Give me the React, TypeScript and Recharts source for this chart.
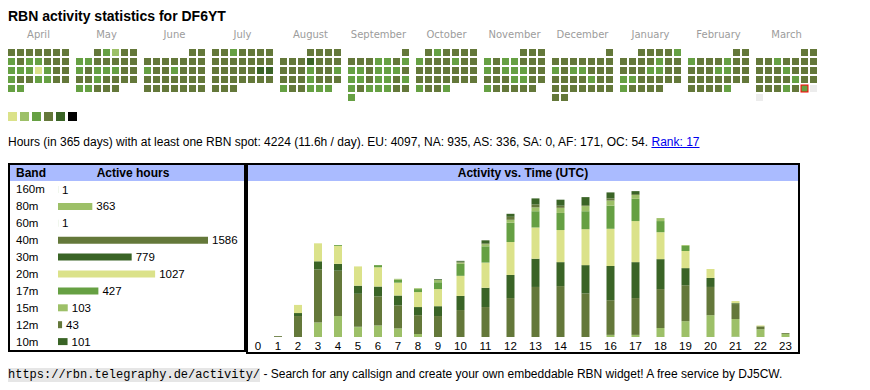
import React from "react";
import { BarChart, Bar, XAxis, YAxis, ScatterChart, Scatter, LabelList, Cell } from "recharts";

// activity level colours (calendar + bars)
const LEVEL_COLORS: Record<string, string> = {
  Y: "#dbe28a",
  L: "#9dc068",
  G: "#66a043",
  O: "#64783a",
  D: "#3a6426",
  K: "#000000",
  _: "#ececec",
};
const LEGEND_LEVELS = ["Y", "L", "G", "O", "D", "K"];

// Calendar: one level letter per day, Mon = column 0
const MONTHS = ["April", "May", "June", "July", "August", "September", "October", "November", "December", "January", "February", "March"];
const FIRST_WEEKDAY = [0, 2, 5, 0, 3, 6, 1, 4, 6, 2, 5, 5];
const DAY_LEVELS = [
  ["OOOOOOO", "GOGGOOO", "GGGYGOO", "GOOGGOO", "GG"],
  ["OGLOO", "GGOOOOO", "GOGGGOO", "OOGOOOO", "GGOOO"],
  ["OO", "OOOOOOO", "GOOGOOO", "OOOOOOO", "OOOOOOO"],
  ["OOGOOOO", "OOOOOOO", "OOOOODD", "OOOOOOO", "OOO"],
  ["OOOO", "OOODOOO", "OOOGOOG", "OOOGOOO", "GOOGGG"],
  ["O", "OOOGGOG", "GGOGGGO", "GGOGGOG", "GOGGGOO", "G"],
  ["OGOOOO", "GOOOGOO", "OOOOOOO", "OOOOOOO", "GOOG"],
  ["OOO", "GOGGOOO", "GOGGGOO", "OOOGGOO", "GOOOOO"],
  ["O", "OOOOOOO", "GOGGOOO", "OOOOGOO", "OOOOOOO", "OO"],
  ["OOOOG", "OOOOGOO", "OOOGGOO", "GGOOOOO", "GOOOO"],
  ["OO", "GOOOGOO", "OOOGGOO", "OOOOOOO", "OOOOG"],
  ["OO", "OOGOOOO", "OOOGOOO", "OOOOGOO", "OOOGOG_", "_"],
].map((rows) => rows.join(""));
const TODAY = { month: 11, day: 28 };

// Band table
const BANDS = ["160m", "80m", "60m", "40m", "30m", "20m", "17m", "15m", "12m", "10m"];
const BAND_HOURS = [1, 363, 1, 1586, 779, 1027, 427, 103, 43, 101];
const BAND_COLORS = ["#66a043", "#9dc068", "#66a043", "#64783a", "#3a6426", "#dbe28a", "#66a043", "#9dc068", "#64783a", "#3a6426"];

// Activity vs. time (UTC), hours per band
const HOURS = ["0", "1", "2", "3", "4", "5", "6", "7", "8", "9", "10", "11", "12", "13", "14", "15", "16", "17", "18", "19", "20", "21", "22", "23"];
const h160 = [0, 0, 0, 0, 0, 0, 0, 0, 0, 0, 0, 0, 0, 0, 0, 0, 0, 0, 0, 0, 0, 1, 0, 0];
const h80 = [0, 0, 0, 34, 49, 23, 27, 20, 7, 0, 0, 0, 0, 0, 0, 0, 5, 5, 21, 37, 51, 41, 18, 7];
const h60 = [0, 0, 0, 0, 0, 1, 0, 0, 0, 0, 0, 0, 0, 0, 0, 0, 0, 0, 0, 0, 0, 0, 0, 0];
const h40 = [0, 2, 49, 124, 106, 77, 68, 54, 44, 49, 63, 70, 91, 117, 119, 102, 81, 86, 91, 84, 66, 35, 7, 2];
const h30 = [0, 0, 7, 19, 16, 19, 23, 23, 19, 23, 33, 45, 54, 66, 56, 66, 80, 84, 70, 40, 21, 2, 0, 0];
const h20 = [0, 0, 19, 42, 42, 45, 45, 30, 35, 40, 47, 59, 77, 73, 75, 84, 87, 96, 63, 40, 21, 5, 2, 0];
const h17 = [0, 0, 0, 0, 2, 0, 5, 7, 7, 16, 28, 38, 45, 38, 40, 42, 54, 52, 26, 12, 0, 0, 0, 0];
const h15 = [0, 0, 0, 0, 0, 0, 0, 2, 2, 5, 3, 5, 7, 9, 12, 12, 12, 9, 7, 2, 0, 0, 0, 0];
const h12 = [0, 0, 0, 0, 0, 0, 0, 0, 0, 0, 2, 2, 7, 7, 5, 2, 5, 2, 0, 0, 0, 0, 0, 0];
const h10 = [0, 0, 0, 0, 0, 0, 0, 0, 0, 2, 2, 7, 7, 14, 14, 19, 14, 7, 0, 0, 0, 0, 0, 0];
const HOURLY_SERIES = [h160, h80, h60, h40, h30, h20, h17, h15, h12, h10];

// the hour columns size like an html table: wider for 2-digit labels
const colUnits = HOURS.map((h) => h.length + 3);
const colTotal = colUnits.reduce((a, b) => a + b, 0);
const colCenters = colUnits.map((u, i) => colUnits.slice(0, i).reduce((a, b) => a + b, 0) + u / 2);

const hourData = HOURS.map((h, i) => {
  const row: any = { x: colCenters[i], label: h };
  BANDS.forEach((b, j) => (row[b] = HOURLY_SERIES[j][i]));
  return row;
});
const tableData = BANDS.map((b, i) => ({ band: b, hours: BAND_HOURS[i] }));

const SANS = "'Liberation Sans', Arial, sans-serif";

const MonthBlock = ({ m }: { m: number }) => {
  const data = [...DAY_LEVELS[m]].map((c, i) => {
    const p = FIRST_WEEKDAY[m] + i;
    return { wd: p % 7, wk: Math.floor(p / 7), c, today: m === TODAY.month && i === TODAY.day };
  });
  return (
    <div style={{ width: 63 }}>
      <div style={{ height: 14, lineHeight: "14px", fontSize: 10, fontFamily: "'DejaVu Sans'", color: "#9c9c9c", textAlign: "center", whiteSpace: "nowrap" }}>
        {MONTHS[m]}
      </div>
      <div style={{ paddingTop: 6 }}>
        <ScatterChart width={63} height={54} margin={{ top: 0, right: 0, bottom: 0, left: 0 }}>
          <XAxis type="number" dataKey="wd" domain={[-0.5, 6.5]} hide />
          <YAxis type="number" dataKey="wk" domain={[-0.5, 5.5]} reversed hide />
          <Scatter
            data={data}
            isAnimationActive={false}
            shape={(p: any) => (
              <rect
                x={p.cx - 3.5}
                y={p.cy - 3.5}
                width={7}
                height={7}
                fill={LEVEL_COLORS[p.payload.c]}
                stroke={p.payload.today ? "#ff0000" : "none"}
                strokeWidth={1}
              />
            )}
          />
        </ScatterChart>
      </div>
    </div>
  );
};

const headerStyle: React.CSSProperties = {
  height: 16,
  lineHeight: "16px",
  background: "#aabbff",
  fontWeight: "bold",
  fontSize: 12,
};

export default function App() {
  return (
    <div style={{ position: "relative", width: 854, height: 374, fontFamily: SANS, color: "#000" }}>
      <div style={{ position: "absolute", top: 0, left: 0, fontSize: 14, fontWeight: "bold", lineHeight: "16px", whiteSpace: "nowrap" }}>
        RBN activity statistics for DF6YT
      </div>

      <div style={{ position: "absolute", top: 20, left: -1, display: "flex", gap: 5 }}>
        {MONTHS.map((_, m) => (
          <MonthBlock key={m} m={m} />
        ))}
      </div>

      <div style={{ position: "absolute", top: 103.5, left: 0, display: "flex", gap: 3 }}>
        {LEGEND_LEVELS.map((l) => (
          <div key={l} style={{ width: 9, height: 9, background: LEVEL_COLORS[l] }} />
        ))}
      </div>

      <div style={{ position: "absolute", top: 127, left: 0, fontSize: 12, lineHeight: "14px", whiteSpace: "nowrap" }}>
        Hours (in 365 days) with at least one RBN spot: 4224 (11.6h / day). EU: 4097, NA: 935, AS: 336, SA: 0, AF: 171, OC: 54.{" "}
        <a href="#" style={{ color: "#0000ee", textDecoration: "underline" }}>Rank: 17</a>
      </div>

      {/* band table */}
      <div style={{ position: "absolute", top: 155, left: 0, width: 238, height: 189, border: "2px solid #000", boxSizing: "border-box" }}>
        <div style={{ ...headerStyle, display: "flex" }}>
          <div style={{ width: 48, paddingLeft: 6, boxSizing: "border-box" }}>Band</div>
          <div style={{ flex: 1, textAlign: "center", paddingRight: 36 }}>Active hours</div>
        </div>
        <BarChart layout="vertical" width={234} height={169} data={tableData} margin={{ top: 0, right: 36, bottom: 0, left: 0 }}>
          <XAxis type="number" hide domain={[0, "dataMax"]} />
          <YAxis
            type="category"
            dataKey="band"
            width={48}
            interval={0}
            axisLine={false}
            tickLine={false}
            tick={(p: any) => (
              <text x={6} y={p.y} dy="0.35em" textAnchor="start" fontSize={11.5} fill="#000">
                {p.payload.value}
              </text>
            )}
          />
          <Bar dataKey="hours" barSize={7} isAnimationActive={false}>
            {tableData.map((d, i) => (
              <Cell key={d.band} fill={BAND_COLORS[i]} />
            ))}
            <LabelList dataKey="hours" position="right" offset={4} fontSize={11.5} fill="#000" />
          </Bar>
        </BarChart>
      </div>

      {/* activity vs time */}
      <div style={{ position: "absolute", top: 155, left: 238, width: 554, height: 191, border: "2px solid #000", boxSizing: "border-box" }}>
        <div style={{ ...headerStyle, textAlign: "center" }}>Activity vs. Time (UTC)</div>
        <BarChart width={550} height={171} data={hourData} margin={{ top: 2, right: 0, bottom: 0, left: 0 }}>
          <XAxis
            type="number"
            dataKey="x"
            domain={[0, colTotal]}
            ticks={colCenters}
            interval={0}
            tickFormatter={(v: number) => HOURS[colCenters.indexOf(v)]}
            axisLine={false}
            tickLine={false}
            tickSize={3}
            tickMargin={2}
            height={15}
            tick={{ fontSize: 11.5, fill: "#000" }}
          />
          <YAxis hide domain={[0, 360]} />
          {BANDS.map((b, i) => (
            <Bar key={b} dataKey={b} stackId="a" fill={BAND_COLORS[i]} barSize={8} isAnimationActive={false} />
          ))}
        </BarChart>
      </div>

      <div style={{ position: "absolute", top: 359, left: 0, fontSize: 12, lineHeight: "14px", whiteSpace: "nowrap" }}>
        <span style={{ fontFamily: "'Liberation Mono', monospace", fontSize: 12, background: "#e6e6e6" }}>https://rbn.telegraphy.de/activity/</span>
        {" "}- Search for any callsign and create your own embeddable RBN widget! A free service by DJ5CW.
      </div>
    </div>
  );
}
